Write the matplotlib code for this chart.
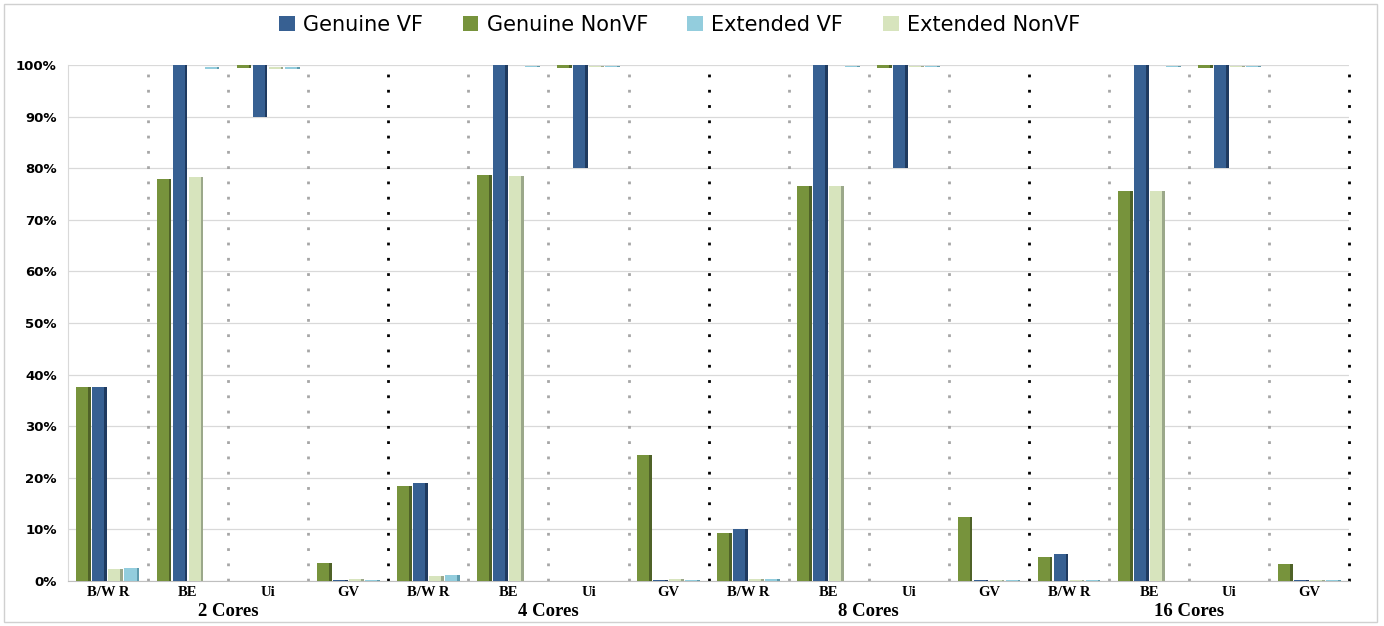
import numpy as np
import matplotlib
matplotlib.use("Agg")
import matplotlib.pyplot as plt
from matplotlib.patches import Rectangle

# ================= 数据 =================
cores = ['2 Cores', '4 Cores', '8 Cores', '16 Cores']
subcats = ['B/W R', 'BE', 'Ui', 'GV']

# 每组 4 个子类: B/W R, BE, Ui, GV (单位 %)
genuine_nonvf = [37.5, 78.0, 100.0, 3.5,
                 18.5, 78.7, 100.0, 24.5,
                 9.3, 76.5, 100.0, 12.3,
                 4.7, 75.5, 100.0, 3.2]
genuine_nonvf_base = [0, 0, 99.5, 0,
                      0, 0, 99.5, 0,
                      0, 0, 99.5, 0,
                      0, 0, 99.5, 0]

genuine_vf = [37.5, 100.0, 100.0, 0.2,
              19.0, 100.0, 100.0, 0.2,
              10.0, 100.0, 100.0, 0.1,
              5.2, 100.0, 100.0, 0.2]
genuine_vf_base = [0, 0, 90, 0,
                   0, 0, 80, 0,
                   0, 0, 80, 0,
                   0, 0, 80, 0]

extended_nonvf = [2.3, 78.3, 99.7, 0.4,
                  1.0, 78.5, 99.9, 0.3,
                  0.3, 76.5, 99.9, 0.1,
                  0.2, 75.5, 99.9, 0.1]
extended_nonvf_base = [0, 0, 99.3, 0,
                       0, 0, 99.6, 0,
                       0, 0, 99.6, 0,
                       0, 0, 99.6, 0]

extended_vf = [2.5, 99.7, 99.7, 0.1,
               1.2, 99.9, 99.9, 0.1,
               0.3, 99.9, 99.9, 0.1,
               0.2, 99.9, 99.9, 0.1]
extended_vf_base = [0, 99.3, 99.3, 0,
                    0, 99.6, 99.6, 0,
                    0, 99.6, 99.6, 0,
                    0, 99.6, 99.6, 0]

# ================= 样式 =================
# (名称, 数值, 底部, 正面颜色, 侧面颜色, 偏移)
series = [
    ('Genuine NonVF', genuine_nonvf, genuine_nonvf_base, '#77933C', '#4F6228', -0.3),
    ('Genuine VF', genuine_vf, genuine_vf_base, '#376092', '#1F3A5F', -0.1),
    ('Extended NonVF', extended_nonvf, extended_nonvf_base, '#D7E4BD', '#9BA88A', 0.1),
    ('Extended VF', extended_vf, extended_vf_base, '#93CDDD', '#5F9BAD', 0.3),
]
legend_order = ['Genuine VF', 'Genuine NonVF', 'Extended VF', 'Extended NonVF']

FACE_W = 0.15
SIDE_W = 0.035

fig = plt.figure(figsize=(13.84, 6.26), dpi=100)
ax = fig.add_axes([0.049, 0.072, 0.926, 0.824])

x = np.arange(len(cores) * len(subcats))
handles = {}
for name, vals, base, color, side, off in series:
    vals = np.array(vals)
    base = np.array(base)
    h = vals - base
    xf = x + off - SIDE_W / 2
    b = ax.bar(xf, h, bottom=base, width=FACE_W, color=color, zorder=3)
    ax.bar(xf + FACE_W / 2 + SIDE_W / 2, h, bottom=base, width=SIDE_W,
           color=side, zorder=3)
    handles[name] = b

ax.set_xlim(-0.5, len(x) - 0.5)
ax.set_ylim(0, 100)

# 网格 + 分隔虚线
ax.set_yticks(np.arange(0, 101, 10))
ax.set_yticklabels([f'{v}%' for v in range(0, 101, 10)],
                   fontsize=9.5, fontweight='bold')
ax.yaxis.grid(True, color='#d9d9d9', linewidth=0.9, zorder=0)
for i in range(1, len(x) + 1):
    if i % 4 == 0:
        ax.axvline(i - 0.5, color='black', linestyle=(0, (1, 4.5)),
                   linewidth=2.0, zorder=2, clip_on=False)
    else:
        ax.axvline(i - 0.5, color='#a6a6a6', linestyle=(0, (1, 4.5)),
                   linewidth=2.0, zorder=2)

ax.set_xticks(x)
ax.set_xticklabels(subcats * len(cores), fontsize=10.5, fontweight='bold',
                   fontfamily='Liberation Serif')
ax.tick_params(axis='both', length=0, pad=4)
ax.tick_params(axis='y', pad=8)

for k, c in enumerate(cores):
    ax.text(k * 4 + 1.5, -0.06, c, transform=ax.get_xaxis_transform(),
            ha='center', va='center', fontsize=13.5, fontweight='bold',
            fontfamily='Liberation Serif')

for s in ['top', 'right']:
    ax.spines[s].set_visible(False)
ax.spines['left'].set_color('#d9d9d9')
ax.spines['bottom'].set_color('#bfbfbf')

fig.legend([handles[n] for n in legend_order], legend_order,
           loc='center', bbox_to_anchor=(0.491, 0.96), ncol=4,
           frameon=False, fontsize=15, handlelength=0.75, handleheight=0.75,
           handletextpad=0.4, columnspacing=1.9)

# 外框
fig.patches.append(Rectangle((0.003, 0.006), 0.992, 0.988, transform=fig.transFigure,
                             fill=False, edgecolor='#d0d0d0', linewidth=1.0))

fig.savefig('out.png', dpi=100)
